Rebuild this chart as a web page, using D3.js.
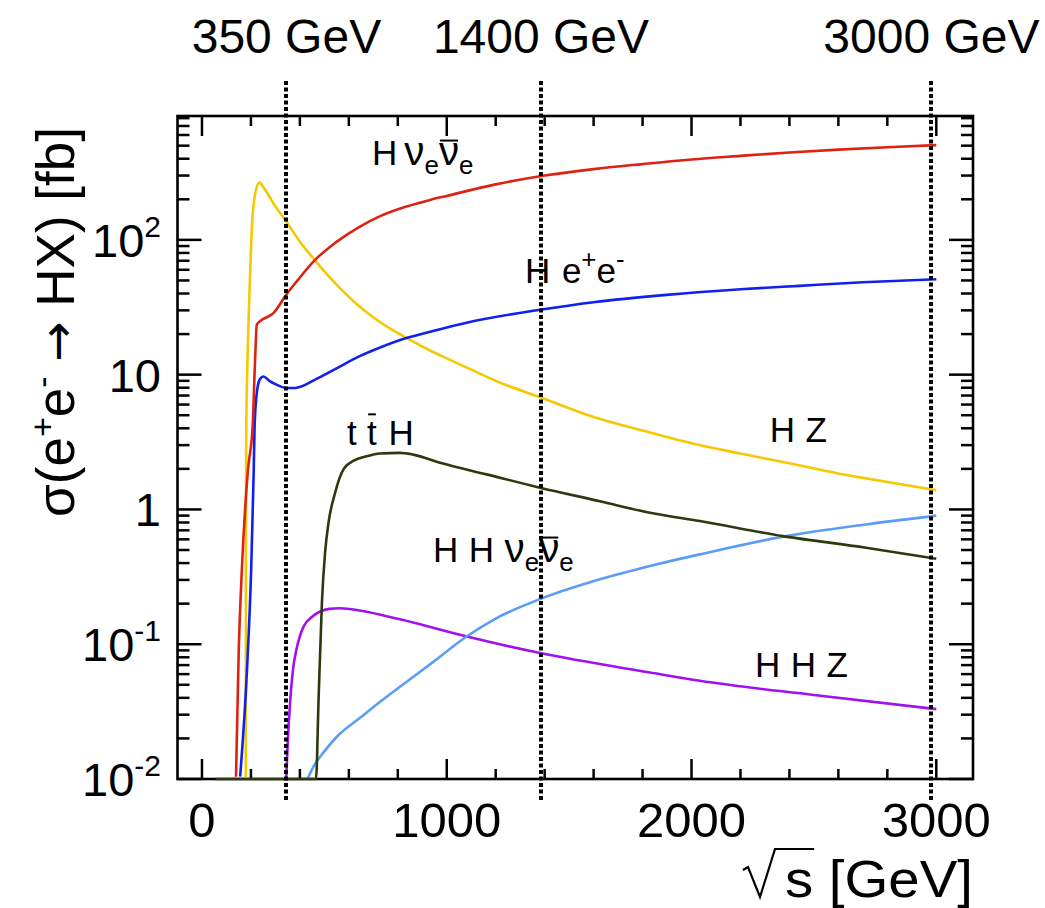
<!DOCTYPE html>
<html>
<head>
<meta charset="utf-8">
<script src="https://cdn.jsdelivr.net/npm/d3@7"></script>
<style>
  body { margin: 0; background: #fff; }
  svg text { font-family: "Liberation Sans", Arial, Helvetica, sans-serif; fill: #000; white-space: pre; }
</style>
</head>
<body>
<svg id="chart" width="1045" height="908"></svg>
<script>

// sqrt(s) [GeV], sigma [fb]
const hvvData = [[139,0.0104],[150,0.087],[163,0.36],[188,1.98],[207,4.14],[217,12.9],[224,23.5],[245,25.5],[292,28.6],[344,39.1],[394,51],[462,71],[544,95],[640,124],[728,150],[832,176],[932,198],[1000,212],[1200,258],[1400,300],[1600,335],[1800,365],[2000,395],[2200,420],[2400,445],[2600,467],[2800,487],[3000,505]]
const heeData = [[156,0.0104],[184,0.065],[201,0.36],[211,1.8],[215,4.14],[224,7.3],[236,9.2],[251,9.7],[275,9.0],[300,8.5],[344,7.97],[381,7.97],[462,9.18],[544,11.0],[640,13.6],[728,15.9],[832,18.6],[932,20.8],[1081,24.3],[1381,30.3],[1600,34.5],[1898,39.1],[2200,43],[2442,45.6],[2700,48.5],[3000,51]]
const hzData = [[179,0.01],[179.5,0.2],[180,1.7],[181,4.1],[186,12.9],[194,40],[204,125],[218,222],[234,266],[258,235],[300,177],[344,137],[400,97],[455,73],[544,47.8],[640,32.5],[728,24.5],[832,18.9],[932,15.1],[1000,13.2],[1100,10.9],[1200,9.0],[1400,6.6],[1600,4.85],[1800,3.85],[2000,3.1],[2200,2.6],[2400,2.2],[2600,1.85],[2800,1.6],[3000,1.39]]
const tthData = [[55,0],[466,0],[476,0.037],[490,0.204],[503,0.48],[517,0.797],[544,1.33],[578,1.98],[620,2.3],[673,2.48],[728,2.6],[809,2.63],[863,2.55],[973,2.22],[1163,1.82],[1381,1.45],[1626,1.15],[1830,0.945],[2034,0.82],[2373,0.634],[2713,0.52],[3000,0.43]]
const hhvvData = [[431,0.01],[460,0.0128],[490,0.0152],[550,0.0205],[650,0.0288],[741,0.039],[850,0.055],[945,0.074],[1081,0.114],[1200,0.155],[1381,0.216],[1626,0.303],[1830,0.38],[2034,0.464],[2387,0.634],[2713,0.774],[3000,0.90]]
const hhzData = [[344,0.01],[350,0.018],[360,0.037],[372,0.065],[385,0.09],[400,0.115],[415,0.135],[450,0.16],[483,0.175],[520,0.183],[564,0.185],[650,0.177],[809,0.153],[1082,0.114],[1381,0.086],[1830,0.0617],[2034,0.0535],[2500,0.042],[3000,0.033]]

const markerEnergies = [345, 1385, 2980]
const markerLabels = ["350 GeV", "1400 GeV", "3000 GeV"]

const xTickValues = [0, 1000, 2000, 3000]
const yTickValues = [0.01, 0.1, 1, 10, 100]
const yTickBase = ["10", "10", "1", "10", "10"]
const yTickExp = ["-2", "-1", "", "", "2"]

var svg = d3.select("#chart")

var x = d3.scaleLinear().domain([-100, 3150]).range([177.5, 973])
var y = d3.scaleLog().domain([0.01, 830]).range([779, 116]).clamp(true)

const plotLeft = x.range()[0], plotRight = x.range()[1]
const plotBottom = y.range()[0], plotTop = y.range()[1]

// frame
svg.append("rect")
    .attr("x", plotLeft).attr("y", plotTop)
    .attr("width", plotRight - plotLeft).attr("height", plotBottom - plotTop)
    .attr("fill", "none").attr("stroke", "#000").attr("stroke-width", 2.6)

// x ticks (bottom + top)
var xTicks = d3.range(0, 3001, 200)
xTicks.forEach(function(v) {
    var len = (v % 1000 === 0) ? 20 : 10
    svg.append("line").attr("x1", x(v)).attr("x2", x(v)).attr("y1", plotBottom).attr("y2", plotBottom - len)
        .attr("stroke", "#000").attr("stroke-width", 2.5)
    svg.append("line").attr("x1", x(v)).attr("x2", x(v)).attr("y1", plotTop).attr("y2", plotTop + len)
        .attr("stroke", "#000").attr("stroke-width", 2.5)
})

// y ticks (left + right)
var yTicks = []
for (var d = -2; d <= 2; d++) {
    for (var m = 1; m <= 9; m++) {
        var v = m * Math.pow(10, d)
        if (v <= y.domain()[1]) yTicks.push({ v: v, major: m === 1 })
    }
}
yTicks.forEach(function(t) {
    var len = t.major ? 24 : 12
    svg.append("line").attr("x1", plotLeft).attr("x2", plotLeft + len).attr("y1", y(t.v)).attr("y2", y(t.v))
        .attr("stroke", "#000").attr("stroke-width", 2.5)
    svg.append("line").attr("x1", plotRight).attr("x2", plotRight - len).attr("y1", y(t.v)).attr("y2", y(t.v))
        .attr("stroke", "#000").attr("stroke-width", 2.5)
})

// x tick labels
xTickValues.forEach(function(v) {
    svg.append("text").attr("x", x(v)).attr("y", 837)
        .attr("text-anchor", "middle").attr("font-size", 49).text(v)
})

// y tick labels
yTickValues.forEach(function(v, i) {
    var t = svg.append("text").attr("x", 161).attr("y", y(v) + 17)
        .attr("text-anchor", "end").attr("font-size", 47)
    t.append("tspan").text(yTickBase[i])
    if (yTickExp[i]) t.append("tspan").attr("dy", -20).attr("font-size", 30).text(yTickExp[i])
})

// y axis title
var yt = svg.append("text")
    .attr("transform", "translate(74," + 322 + ") rotate(-90)")
    .attr("text-anchor", "middle").attr("font-size", 53)
yt.append("tspan").text("σ(e")
yt.append("tspan").attr("dy", -20).attr("font-size", 34).text("+")
yt.append("tspan").attr("dy", 20).text("e")
yt.append("tspan").attr("dy", -20).attr("font-size", 34).text("-")
yt.append("tspan").attr("dy", 20).text(" ")
yt.append("tspan").style("font-family", "'DejaVu Sans'").attr("font-size", 48).text("→")
yt.append("tspan").text(" HX) [fb]")

// x axis title with radical sign
var yb = 897
var xt = svg.append("text").attr("x", plotRight).attr("y", yb)
    .attr("text-anchor", "end").attr("font-size", 52)
    .attr("textLength", 188).attr("lengthAdjust", "spacingAndGlyphs")
    .text("s [GeV]")
var sx = xt.node().getStartPositionOfChar(0).x
var sw = xt.node().getEndPositionOfChar(0).x - sx
svg.append("path")
    .attr("d", `M${sx - 42},${yb - 27} L${sx - 37},${yb - 30} L${sx - 25},${yb} L${sx - 10},${yb - 48} L${sx + sw + 1},${yb - 48}`)
    .attr("fill", "none").attr("stroke", "#000").attr("stroke-width", 2.2)

// curves
var line = d3.line()
    .x(function(d) { return x(d[0]) })
    .y(function(d) { return y(d[1]) })
    .curve(d3.curveMonotoneX)

var series = [
    { data: hhzData, color: "#a010f0" },
    { data: hhvvData, color: "#5a9cf8" },
    { data: hzData, color: "#f5c800" },
    { data: heeData, color: "#1020ee" },
    { data: hvvData, color: "#dd2211" },
    { data: tthData, color: "#2b3a0e" }
]

series.forEach(function(s) {
    svg.append("path").datum(s.data)
        .attr("d", line)
        .attr("fill", "none")
        .attr("stroke", s.color)
        .attr("stroke-width", 2.6)
        .attr("stroke-linejoin", "round")
})

// energy markers
markerEnergies.forEach(function(e, i) {
    var mx = Math.round(x(e))
    svg.append("line").attr("x1", mx).attr("x2", mx).attr("y1", 81).attr("y2", 800)
        .attr("stroke", "#000").attr("stroke-width", 4).attr("stroke-dasharray", "4,2.5")
    svg.append("text").attr("x", x(e)).attr("y", 53)
        .attr("text-anchor", "middle").attr("font-size", 48).text(markerLabels[i])
})

// curve labels
function richLabel(px, py, parts, size) {
    var g = svg.append("g")
    var cx = px
    parts.forEach(function(p) {
        var small = p.sub || p.sup
        var fs = small ? size * 0.74 : (p.greek ? size * 1.15 : size)
        var dy = p.sub ? size * 0.25 : (p.sup ? -size * 0.42 : 0)
        cx += (p.gap || 0) * size
        var t = g.append("text").attr("x", cx).attr("y", py + dy).attr("font-size", fs).text(p.t)
        var w = t.node().getComputedTextLength()
        if (p.bar) {
            var by = py - size * (p.bar === "high" ? 0.88 : 0.7)
            g.append("line").attr("x1", cx + 1).attr("x2", cx + w - 1).attr("y1", by).attr("y2", by)
                .attr("stroke", "#000").attr("stroke-width", 2)
        }
        cx += w
    })
}

const labelSize = 35
richLabel(x(695), y(359), [{ t: "H" }, { t: "ν", gap: 0.2, greek: true }, { t: "e", sub: true }, { t: "ν", bar: true, greek: true }, { t: "e", sub: true }], labelSize)
richLabel(x(1320), y(47.8), [{ t: "H" }, { t: "e", gap: 0.33 }, { t: "+", sup: true }, { t: "e" }, { t: "-", sup: true }], labelSize)
richLabel(x(592), y(3.0), [{ t: "t" }, { t: "t", gap: 0.3, bar: "high" }, { t: "H", gap: 0.33 }], labelSize)
richLabel(x(2320), y(3.16), [{ t: "H" }, { t: "Z", gap: 0.3 }], labelSize)
richLabel(x(944), y(0.407), [{ t: "H" }, { t: "H", gap: 0.3 }, { t: "ν", gap: 0.3, greek: true }, { t: "e", sub: true }, { t: "ν", bar: true, greek: true }, { t: "e", sub: true }], labelSize)
richLabel(x(2259), y(0.0571), [{ t: "H" }, { t: "H", gap: 0.3 }, { t: "Z", gap: 0.3 }], labelSize)

</script>
</body>
</html>
